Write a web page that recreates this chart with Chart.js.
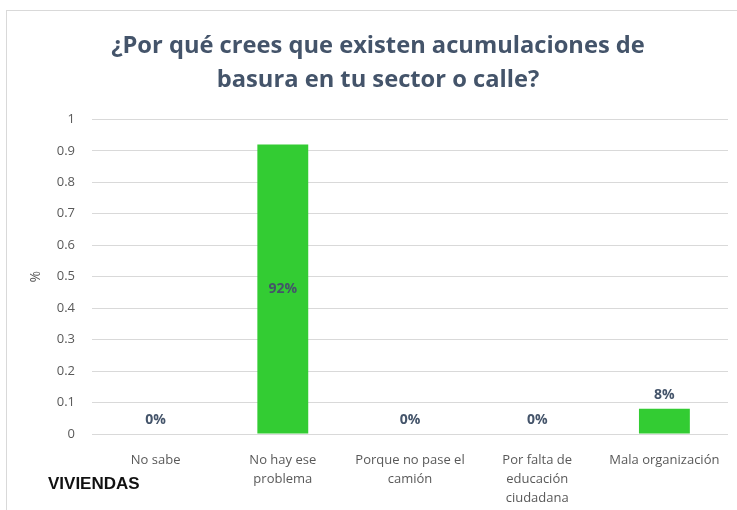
<!DOCTYPE html>
<html>
<head>
<meta charset="utf-8">
<script src="https://cdn.jsdelivr.net/npm/chart.js@4"></script>
<style>
  html, body { margin: 0; padding: 0; background: #fff; }
  body { width: 737px; height: 510px; position: relative; overflow: hidden; }
  #frame { position: absolute; left: 6px; top: 10px; width: 800px; height: 600px; border: 1px solid #d9d9d9; }
  #wrap { position: absolute; left: 0; top: 0; width: 737px; height: 510px; }
  #tag { position: absolute; left: 48px; top: 475px; font: bold 17px/17px "Liberation Sans", Arial, sans-serif; color: #111; }
</style>
</head>
<body>
<div id="frame"></div>
<div id="wrap"><canvas id="chart"></canvas></div>
<div id="tag">VIVIENDAS</div>
<script>
const titleLines = ["¿Por qué crees que existen acumulaciones de", "basura en tu sector o calle?"];
const categories = [
  "No sabe",
  ["No hay ese", "problema"],
  ["Porque no pase el", "camión"],
  ["Por falta de", "educación", "ciudadana"],
  "Mala organización"
];
const shares = [0, 0.92, 0, 0, 0.08];
const yTicks = [0, 0.1, 0.2, 0.3, 0.4, 0.5, 0.6, 0.7, 0.8, 0.9, 1];

const labelColor = "#44546a";

// percentage labels: inside the tall bar, above the short ones
const valueLabels = {
  id: "valueLabels",
  afterDatasetsDraw(chart) {
    const { ctx } = chart;
    const meta = chart.getDatasetMeta(0);
    ctx.save();
    ctx.font = "bold 14px 'Open Sans'";
    ctx.fillStyle = labelColor;
    ctx.textAlign = "center";
    ctx.textBaseline = "middle";
    meta.data.forEach((bar, i) => {
      const v = shares[i];
      const txt = Math.round(v * 100) + "%";
      const y = v > 0.5 ? (bar.y + bar.base) / 2 : bar.y - 14;
      ctx.fillText(txt, bar.x, y);
    });
    ctx.restore();
  }
};

new Chart(document.getElementById("chart"), {
  type: "bar",
  data: {
    labels: categories,
    datasets: [{
      data: shares,
      backgroundColor: "#33cc33",
      categoryPercentage: 1,
      barPercentage: 0.4
    }]
  },
  options: {
    responsive: true,
    maintainAspectRatio: false,
    animation: false,
    layout: { padding: { top: 10, left: 28, right: 9, bottom: 0 } },
    plugins: {
      legend: { display: false },
      tooltip: { enabled: false },
      title: {
        display: true,
        text: titleLines,
        color: labelColor,
        font: { family: "'Open Sans'", size: 23.7, weight: "700", lineHeight: 1.4 },
        padding: { top: 20, bottom: 23 }
      }
    },
    scales: {
      x: {
        afterFit: (s) => { s.height = 76; },
        grid: { display: false },
        border: { display: false },
        ticks: {
          color: "#595959",
          font: { family: "'Open Sans'", size: 13, lineHeight: 1.45 },
          maxRotation: 0,
          autoSkip: false,
          padding: 9
        }
      },
      y: {
        min: 0,
        max: 1,
        afterBuildTicks: (s) => { s.ticks = yTicks.map((v) => ({ value: v })); },
        afterFit: (s) => { s.width = 64; },
        grid: { color: "#d9d9d9", drawTicks: false },
        border: { display: false },
        ticks: {
          color: "#595959",
          font: { family: "'Open Sans'", size: 13 },
          padding: 17,
          callback: (v) => String(v)
        },
        title: {
          display: true,
          text: "%",
          color: "#595959",
          font: { family: "'Open Sans'", size: 14 },
          padding: { top: 0 }
        }
      }
    }
  },
  plugins: [valueLabels]
});
</script>
</body>
</html>
